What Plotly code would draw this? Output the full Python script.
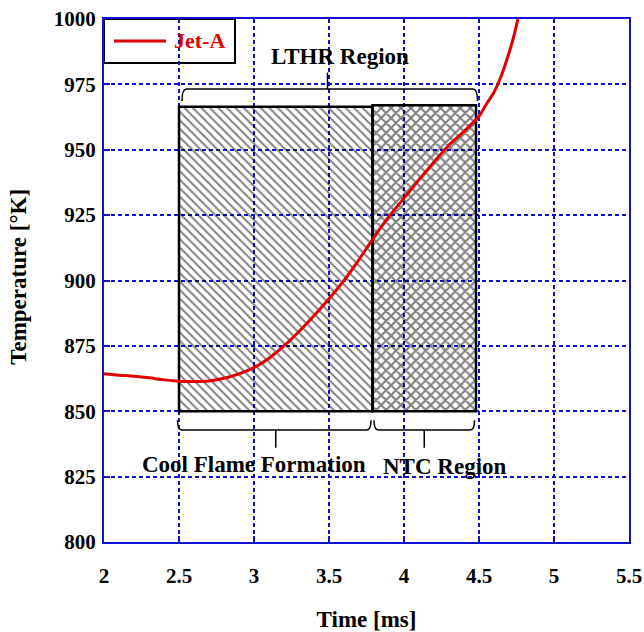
import plotly.graph_objects as go

# Jet-A temperature history
time_ms = [2.0, 2.1, 2.2, 2.3, 2.4, 2.5, 2.6, 2.7, 2.8, 2.9, 3.0, 3.1, 3.2, 3.3, 3.4,
           3.5, 3.6, 3.7, 3.8, 3.9, 4.0, 4.1, 4.2, 4.3, 4.4, 4.5, 4.55, 4.6, 4.65,
           4.7, 4.73, 4.76]
temp_k = [864.3, 863.8, 863.4, 862.8, 862.0, 861.5, 861.4, 861.6, 862.6, 864.3, 866.7,
          870.3, 875.0, 880.5, 886.5, 893.0, 900.0, 908.0, 916.5, 924.5, 931.5, 938.5,
          945.3, 951.8, 957.0, 962.8, 967.5, 972.0, 978.5, 987.0, 993.0, 1000.0]
series_name = "Jet-A"

# Reaction regimes: [start, end] in ms and temperature extent of the box
region_names = ["Cool Flame Formation", "NTC Region"]
region_start = [2.5, 3.79]
region_end = [3.79, 4.48]
region_tmin = [850, 850]
region_tmax = [966.4, 967.0]
region_hatch = ["\\", "x"]

lthr_label = "LTHR Region"
x_ticks = [2, 2.5, 3, 3.5, 4, 4.5, 5, 5.5]
y_ticks = [800, 825, 850, 875, 900, 925, 950, 975, 1000]

FONT = "Liberation Serif"
BLUE = "#1010d0"
RED = "#e00000"

fig = go.Figure()

for name, x0, x1, t0, t1, hatch in zip(region_names, region_start, region_end,
                                       region_tmin, region_tmax, region_hatch):
    fig.add_trace(go.Bar(
        x=[(x0 + x1) / 2], y=[t1 - t0], base=[t0], width=[x1 - x0],
        name=name, showlegend=False, hoverinfo="skip",
        marker=dict(color="rgba(0,0,0,0)",
                    line=dict(color="black", width=2.5),
                    pattern=dict(shape=hatch, fgcolor="black",
                                 bgcolor="rgba(0,0,0,0)",
                                 size=6 if hatch == "\\" else 7,
                                 solidity=0.32 if hatch == "\\" else 0.5)),
    ))

fig.add_trace(go.Scatter(
    x=time_ms, y=temp_k, mode="lines", name=series_name, showlegend=False,
    line=dict(color=RED, width=3, shape="spline", smoothing=0.6),
))


def bracket(x0, x1, xm, y_end, y_bar, y_tip, r):
    """Square bracket with rounded ends and a central tip."""
    return (f"M {x0},{y_end} Q {x0},{y_bar} {x0 + r},{y_bar} L {x1 - r},{y_bar} "
            f"Q {x1},{y_bar} {x1},{y_end} "
            f"M {xm},{y_bar} L {xm},{y_tip}")


shapes = []
# Bottom brackets under each regime
for x0, x1 in zip(region_start, region_end):
    shapes.append(dict(type="path", xref="x", yref="y",
                       path=bracket(x0 - 0.01 if x0 < 3 else x0 + 0.01,
                                    x1 - 0.01, (x0 + x1) / 2, 846.6, 842.8, 836.0, 0.03),
                       line=dict(color="black", width=1.5)))
# Top bracket spanning the whole low-temperature heat release range
shapes.append(dict(type="path", xref="x", yref="y",
                   path=bracket(region_start[0] + 0.02, region_end[-1] + 0.01,
                                (region_start[0] + region_end[-1]) / 2, 968.6, 973.2, 979.5, 0.03),
                   line=dict(color="black", width=1.5)))
# Legend frame and line sample
shapes.append(dict(type="rect", xref="paper", yref="paper",
                   x0=0, x1=0.2495, y0=0.9159, y1=1.0,
                   line=dict(color="black", width=2), fillcolor="white", layer="below"))
shapes.append(dict(type="line", xref="paper", yref="paper",
                   x0=0.019, x1=0.118, y0=0.958, y1=0.958,
                   line=dict(color=RED, width=3)))

annotations = [
    dict(x=(region_start[0] + region_end[-1]) / 2 + 0.08, y=985.5, text=f"<b>{lthr_label}</b>"),
    dict(x=3.0, y=829.8, text=f"<b>{region_names[0]}</b>"),
    dict(x=4.27, y=828.7, text=f"<b>{region_names[1]}</b>"),
]
for a in annotations:
    a.update(xref="x", yref="y", showarrow=False,
             font=dict(family=FONT, size=23, color="black"))
annotations.append(dict(xref="paper", yref="paper", x=0.1295, y=0.958,
                        xanchor="left", yanchor="middle", showarrow=False,
                        text=f"<b>{series_name}</b>",
                        font=dict(family=FONT, size=22, color=RED)))
# Y axis title
annotations.append(dict(xref="paper", yref="paper", x=-0.162, y=0.507,
                        xanchor="center", yanchor="middle", showarrow=False,
                        textangle=-90, text="<b>Temperature [°K]</b>",
                        font=dict(family=FONT, size=23, color="black")))

axis_common = dict(
    showline=True, linecolor=BLUE, linewidth=2, mirror=True,
    showgrid=True, gridcolor=BLUE, gridwidth=1.5, griddash="4px,3px",
    ticks="inside", tickcolor=BLUE, ticklen=6, tickwidth=1.5,
    tickfont=dict(family=FONT, size=21, color="black", weight="bold"),
    zeroline=False, automargin=False,
)

fig.update_layout(
    width=644, height=632,
    margin=dict(l=104, r=15, t=19, b=90),
    paper_bgcolor="white", plot_bgcolor="white",
    barmode="overlay", showlegend=False,
    shapes=shapes, annotations=annotations,
    xaxis=dict(range=[2, 5.5], tickvals=x_ticks, ticklabelstandoff=14,
               title=dict(text="<b>Time [ms]</b>", standoff=28,
                          font=dict(family=FONT, size=23, color="black")),
               **axis_common),
    yaxis=dict(range=[800, 1000], tickvals=y_ticks, ticklabelstandoff=2,
               **axis_common),
)

fig.write_html("out.html")
